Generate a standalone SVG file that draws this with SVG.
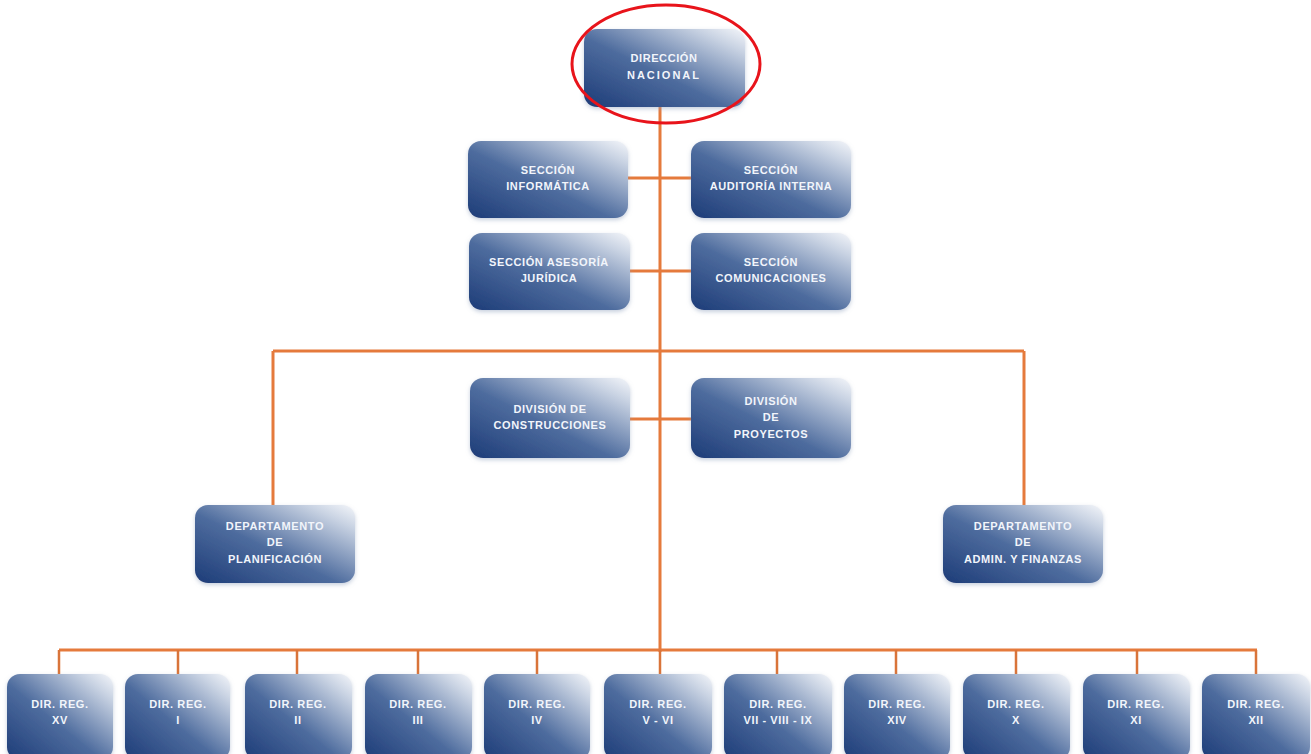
<svg xmlns="http://www.w3.org/2000/svg" width="1311" height="754" viewBox="0 0 1311 754">
<defs>
<linearGradient id="g" x1="0" y1="1" x2="1" y2="0">
<stop offset="0" stop-color="#1d3c78"/>
<stop offset="0.45" stop-color="#4e6c9e"/>
<stop offset="0.85" stop-color="#c9d3e3"/>
<stop offset="1" stop-color="#f4f6fa"/>
</linearGradient>
<filter id="sh" x="-10%" y="-10%" width="120%" height="130%">
<feDropShadow dx="0" dy="2" stdDeviation="2" flood-color="#8fa0bd" flood-opacity="0.5"/>
</filter>
</defs>
<style>
.box{fill:url(#g);filter:url(#sh)}
.t{font-family:"Liberation Sans",Arial,sans-serif;font-size:11px;font-weight:bold;fill:#f2f5fb;text-anchor:middle;letter-spacing:0.6px}
.c{stroke:#e57a3c;stroke-width:3;fill:none}
.d{stroke:#d9743a;stroke-width:2.5;fill:none}
</style>
<rect width="1311" height="754" fill="#ffffff"/>
<g id="connectors">
<path class="c" d="M660 107V652"/>
<path class="c" d="M628 178H691M630 271H691M630 419H691"/>
<path class="c" d="M273 351H1024M273 351V517M1024 351V508"/>
<path class="c" d="M59 650H1257"/>
<path class="d" d="M59 650V674M178 650V674M297 650V674M418 650V674M537 650V674M660 650V674M777 650V674M896 650V674M1016 650V674M1137 650V674M1256 650V674"/>
</g>
<g id="n-direccion">
<rect class="box" x="584" y="29" width="161" height="78" rx="13"/>
<text class="t" x="664" y="62">DIRECCIÓN</text>
<text class="t" x="664" y="79" style="letter-spacing:2px">NACIONAL</text>
</g>
<ellipse cx="666" cy="64" rx="94" ry="59" fill="none" stroke="#e8141b" stroke-width="3"/>
<g id="n-informatica">
<rect class="box" x="468" y="141" width="160" height="77" rx="13"/>
<text class="t" x="548" y="174">SECCIÓN</text>
<text class="t" x="548" y="190">INFORMÁTICA</text>
</g>
<g id="n-auditoria">
<rect class="box" x="691" y="141" width="160" height="77" rx="13"/>
<text class="t" x="771" y="174">SECCIÓN</text>
<text class="t" x="771" y="190">AUDITORÍA INTERNA</text>
</g>
<g id="n-juridica">
<rect class="box" x="469" y="233" width="161" height="77" rx="13"/>
<text class="t" x="549" y="266">SECCIÓN ASESORÍA</text>
<text class="t" x="549" y="282">JURÍDICA</text>
</g>
<g id="n-comunicaciones">
<rect class="box" x="691" y="233" width="160" height="77" rx="13"/>
<text class="t" x="771" y="266">SECCIÓN</text>
<text class="t" x="771" y="282">COMUNICACIONES</text>
</g>
<g id="n-construcciones">
<rect class="box" x="470" y="378" width="160" height="80" rx="13"/>
<text class="t" x="550" y="413">DIVISIÓN DE</text>
<text class="t" x="550" y="429">CONSTRUCCIONES</text>
</g>
<g id="n-proyectos">
<rect class="box" x="691" y="378" width="160" height="80" rx="13"/>
<text class="t" x="771" y="405">DIVISIÓN</text>
<text class="t" x="771" y="421">DE</text>
<text class="t" x="771" y="438">PROYECTOS</text>
</g>
<g id="n-planificacion">
<rect class="box" x="195" y="505" width="160" height="78" rx="13"/>
<text class="t" x="275" y="530">DEPARTAMENTO</text>
<text class="t" x="275" y="546">DE</text>
<text class="t" x="275" y="563">PLANIFICACIÓN</text>
</g>
<g id="n-finanzas">
<rect class="box" x="943" y="505" width="160" height="78" rx="13"/>
<text class="t" x="1023" y="530">DEPARTAMENTO</text>
<text class="t" x="1023" y="546">DE</text>
<text class="t" x="1023" y="563">ADMIN. Y FINANZAS</text>
</g>
<g id="n-xv"><rect class="box" x="7" y="674" width="106" height="86" rx="13"/><text class="t" x="60" y="708">DIR. REG.</text><text class="t" x="60" y="724">XV</text></g>
<g id="n-i"><rect class="box" x="125" y="674" width="105" height="86" rx="13"/><text class="t" x="178" y="708">DIR. REG.</text><text class="t" x="178" y="724">I</text></g>
<g id="n-ii"><rect class="box" x="245" y="674" width="107" height="86" rx="13"/><text class="t" x="298" y="708">DIR. REG.</text><text class="t" x="298" y="724">II</text></g>
<g id="n-iii"><rect class="box" x="365" y="674" width="107" height="86" rx="13"/><text class="t" x="418" y="708">DIR. REG.</text><text class="t" x="418" y="724">III</text></g>
<g id="n-iv"><rect class="box" x="484" y="674" width="106" height="86" rx="13"/><text class="t" x="537" y="708">DIR. REG.</text><text class="t" x="537" y="724">IV</text></g>
<g id="n-v-vi"><rect class="box" x="604" y="674" width="108" height="86" rx="13"/><text class="t" x="658" y="708">DIR. REG.</text><text class="t" x="658" y="724">V - VI</text></g>
<g id="n-vii"><rect class="box" x="724" y="674" width="108" height="86" rx="13"/><text class="t" x="778" y="708">DIR. REG.</text><text class="t" x="778" y="724">VII - VIII - IX</text></g>
<g id="n-xiv"><rect class="box" x="844" y="674" width="106" height="86" rx="13"/><text class="t" x="897" y="708">DIR. REG.</text><text class="t" x="897" y="724">XIV</text></g>
<g id="n-x"><rect class="box" x="963" y="674" width="107" height="86" rx="13"/><text class="t" x="1016" y="708">DIR. REG.</text><text class="t" x="1016" y="724">X</text></g>
<g id="n-xi"><rect class="box" x="1083" y="674" width="107" height="86" rx="13"/><text class="t" x="1136" y="708">DIR. REG.</text><text class="t" x="1136" y="724">XI</text></g>
<g id="n-xii"><rect class="box" x="1202" y="674" width="108" height="86" rx="13"/><text class="t" x="1256" y="708">DIR. REG.</text><text class="t" x="1256" y="724">XII</text></g>
</svg>
